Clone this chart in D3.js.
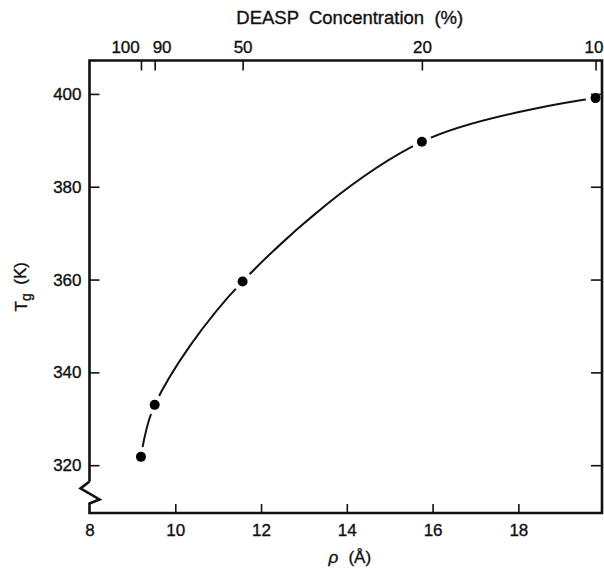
<!DOCTYPE html>
<html>
<head>
<meta charset="utf-8">
<script src="https://cdn.jsdelivr.net/npm/d3@7"></script>
<style>
  body { margin: 0; background: #fff; }
  svg { display: block; font-family: "Liberation Sans", Arial, Helvetica, sans-serif; }
  svg text { fill: #111; stroke: #111; stroke-width: 0.35px; }
  .axis text { font-size: 17px; }
  .axis line { stroke: #111; stroke-width: 1.6; }
</style>
</head>
<body>
<div id="chart"></div>
<script>
// measured points: rho (Å) vs Tg (K); top axis = DEASP concentration at each point
const rho = [9.2, 9.52, 11.57, 15.75, 19.8];
const tg = [321.8, 333.0, 359.6, 389.7, 399.1];
const concentration = ["100", "90", "50", "20", "10"];
const xTicks = [8, 10, 12, 14, 16, 18];
const yTicks = [320, 340, 360, 380, 400];

const W = 604, H = 569;
const margin = { top: 60.5, right: 2, bottom: 56, left: 89.5 };
const width = W - margin.left - margin.right;
const height = H - margin.top - margin.bottom;

const svg = d3.select("#chart").append("svg")
  .attr("width", W)
  .attr("height", H);

const g = svg.append("g")
  .attr("transform", `translate(${margin.left},${margin.top})`);

const x = d3.scaleLinear().domain([8, 19.95]).range([0, width]);
const y = d3.scaleLinear().domain([309.7, 407.2]).range([height, 0]);

const points = rho.map((r, i) => ({ r, t: tg[i], c: concentration[i] }));

// fitted curve
const line = d3.line()
  .x(d => x(d.r))
  .y(d => y(d.t))
  .curve(d3.curveCatmullRom.alpha(0.5));

g.append("path")
  .datum(points)
  .attr("d", line)
  .attr("fill", "none")
  .attr("stroke", "#111")
  .attr("stroke-width", 2);

// white halos break the curve around each point
g.selectAll(".halo")
  .data(points)
  .enter().append("circle")
  .attr("cx", d => x(d.r))
  .attr("cy", d => y(d.t))
  .attr("r", 10)
  .attr("fill", "#fff");

g.selectAll(".dot")
  .data(points)
  .enter().append("circle")
  .attr("cx", d => x(d.r))
  .attr("cy", d => y(d.t))
  .attr("r", 5)
  .attr("fill", "#000");

// bottom axis (ticks inward)
g.append("g")
  .attr("class", "axis")
  .attr("transform", `translate(0,${height})`)
  .call(d3.axisBottom(x).tickValues(xTicks).tickSizeInner(-9).tickSizeOuter(0).tickPadding(11))
  .call(a => a.select(".domain").remove())
  .call(a => a.selectAll(".tick").filter(d => d === 8).select("line").remove());

// left axis
g.append("g")
  .attr("class", "axis")
  .call(d3.axisLeft(y).tickValues(yTicks).tickSizeInner(-10).tickSizeOuter(0).tickPadding(8))
  .call(a => a.select(".domain").remove());

// right axis, ticks only
g.append("g")
  .attr("class", "axis")
  .attr("transform", `translate(${width},0)`)
  .call(d3.axisRight(y).tickValues(yTicks).tickSizeInner(-11).tickSizeOuter(0).tickFormat(""))
  .call(a => a.select(".domain").remove());

// top axis: concentration at each measured rho
const topAxis = g.append("g")
  .attr("class", "axis")
  .call(d3.axisTop(x).tickValues(rho).tickSizeInner(-10).tickSizeOuter(0).tickPadding(8)
    .tickFormat((d, i) => concentration[i]))
  .call(a => a.select(".domain").remove());

// push apart crowded top labels, keep the last one inside the page
topAxis.selectAll(".tick text").each(function (d, i) {
  const prev = i > 0 ? x(rho[i - 1]) : -Infinity;
  const next = i < rho.length - 1 ? x(rho[i + 1]) : Infinity;
  const t = d3.select(this);
  if (next - x(d) < 25) t.attr("text-anchor", "end").attr("dx", "-0.1em");
  else if (x(d) - prev < 25) t.attr("text-anchor", "start").attr("dx", "-0.15em");
  if (x(d) + margin.left + 12 > W) t.attr("text-anchor", "end").attr("dx", W - 1 - margin.left - x(d));
});

// frame with axis break on the left side
const yBreak = y(316.5);
const frame = [
  [0, yBreak], [0, 0], [width, 0], [width, height], [0, height],
  [0, yBreak + 22], [10, yBreak + 18], [-9, yBreak + 7], [0, yBreak]
];
g.append("path")
  .attr("d", d3.line()(frame))
  .attr("fill", "none")
  .attr("stroke", "#111")
  .attr("stroke-width", 2.6)
  .attr("stroke-linejoin", "miter");

// axis titles
svg.append("text")
  .attr("x", margin.left + width / 2 + 4)
  .attr("y", 24)
  .attr("text-anchor", "middle")
  .attr("font-size", "18.5px")
  .attr("xml:space", "preserve")
  .text("DEASP  Concentration  (%)");

const xt = svg.append("text")
  .attr("x", margin.left + width / 2 + 4)
  .attr("y", 563)
  .attr("text-anchor", "middle")
  .attr("font-size", "17px");
xt.append("tspan").attr("font-style", "italic").text("ρ");
xt.append("tspan").attr("dx", "0.6em").text("(Å)");

const yt = svg.append("text")
  .attr("transform", `translate(27,${margin.top + height / 2}) rotate(-90)`)
  .attr("text-anchor", "middle")
  .attr("font-size", "17px");
yt.append("tspan").text("T");
yt.append("tspan").attr("font-size", "14px").attr("dy", "0.3em").text("g");
yt.append("tspan").attr("dy", "-0.3em").attr("dx", "0.5em").text("(K)");
</script>
</body>
</html>
